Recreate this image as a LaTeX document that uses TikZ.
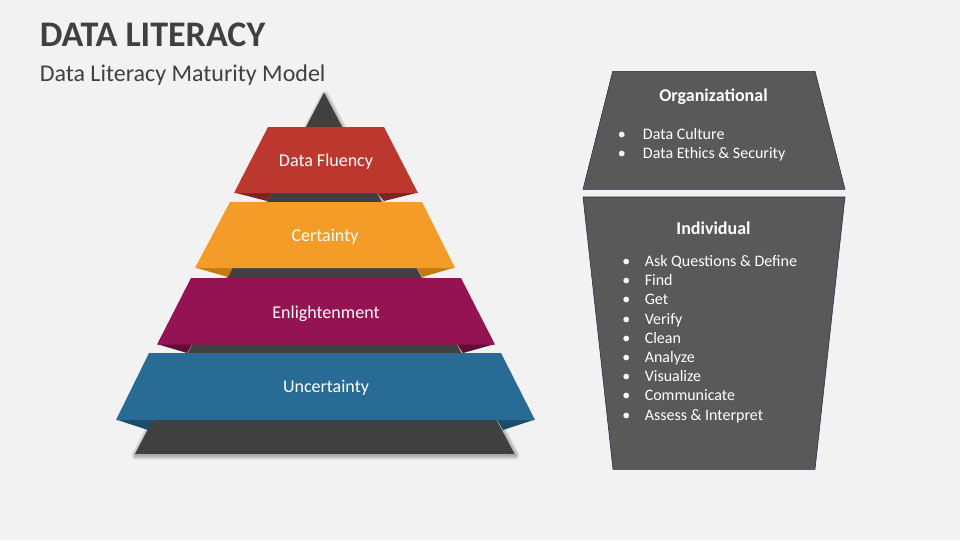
\documentclass[tikz,border=0pt]{standalone}
\usepackage{fontspec}
\setmainfont{Carlito}
\definecolor{slidebg}{HTML}{F2F2F2}
\definecolor{darkgrey}{HTML}{404040}
\definecolor{panelgrey}{HTML}{595959}
\definecolor{panelline}{HTML}{3B1A4A}
\definecolor{fluency}{HTML}{BC382F}
\definecolor{fluencyfold}{HTML}{7E2420}
\definecolor{certainty}{HTML}{F39C27}
\definecolor{certaintyfold}{HTML}{C27A12}
\definecolor{enlight}{HTML}{941352}
\definecolor{enlightfold}{HTML}{610C38}
\definecolor{uncertain}{HTML}{286C96}
\definecolor{uncertainfold}{HTML}{1A4C6C}
\tikzset{
    bandtext/.style={text=white,font=\fontsize{13.5}{16}\selectfont},
    paneltext/.style={text=white,font=\fontsize{12}{14}\selectfont,anchor=base west,inner sep=0},
    panelhead/.style={text=white,font=\fontsize{13.5}{16}\selectfont\bfseries},
    panelshape/.style={fill=panelgrey,draw=panelline,line width=0.4pt}
}
\begin{document}
\begin{tikzpicture}[x=0.75pt,y=-0.75pt]
    \fill [slidebg] (0,0) rectangle (960,540);
    \foreach \w in {1,2,...,7} {
        \draw [black,opacity=0.045,line width=\w*0.9pt,line join=round]
            (325,95) -- (515.5,455.5) -- (135.5,455.5) -- cycle;
    }
    \fill [darkgrey] (324,92.5) -- (514.5,454) -- (135,454) -- cycle;

    \fill [fluencyfold] (234,192.5) -- (267,201) -- (272,192.5) -- cycle;
    \fill [fluencyfold] (418,192.5) -- (384,201) -- (377,192.5) -- cycle;
    \fill [fluency] (268,127) -- (384,127) -- (418,193) -- (234,193) -- cycle;
    \fill [certaintyfold] (195,267.5) -- (228,277) -- (233,267.5) -- cycle;
    \fill [certaintyfold] (455,267.5) -- (422,277) -- (417,267.5) -- cycle;
    \fill [certainty] (230,202) -- (422,202) -- (455,268) -- (195,268) -- cycle;
    \fill [enlightfold] (157,344) -- (187,353) -- (192,344) -- cycle;
    \fill [enlightfold] (495,344) -- (463,353) -- (457,344) -- cycle;
    \fill [enlight] (191,278) -- (461,278) -- (495,344.5) -- (157,344.5) -- cycle;
    \fill [uncertainfold] (116,419.5) -- (148,430) -- (153,419.5) -- cycle;
    \fill [uncertainfold] (535,419.5) -- (503,430) -- (497,419.5) -- cycle;
    \fill [uncertain] (149,353) -- (501,353) -- (535,420) -- (116,420) -- cycle;

    \node [bandtext] (fluencylabel) at (326,161.5) {Data Fluency};
    \node [bandtext] (certaintylabel) at (325,236.5) {Certainty};
    \node [bandtext] (enlightlabel) at (326,313.5) {Enlightenment};
    \node [bandtext] (uncertainlabel) at (326,387.5) {Uncertainty};

    \draw [panelshape] (612.7,71.3) -- (815,71.3) -- (845,189.3) -- (583,189.3) -- cycle;
    \draw [panelshape] (583,197) -- (845,197) -- (815,469.3) -- (613,469.3) -- cycle;

    \node [panelhead] (orghead) at (713.5,96.5) {Organizational};
    \node [panelhead] (indhead) at (713.5,228.5) {Individual};

    \foreach \y/\name/\txt in {139/culture/Data Culture,158/ethics/Data Ethics \& Security} {
        \node [paneltext] (dot\name) at (617.5,\y) {\textbullet};
        \node [paneltext] (\name) at (642.7,\y) {\txt};
    }
    \foreach \y/\name/\txt in {266/ask/Ask Questions \& Define,285/find/Find,304/get/Get,
        324/verify/Verify,343/clean/Clean,362/analyze/Analyze,381/visualize/Visualize,
        400/communicate/Communicate,420/assess/Assess \& Interpret} {
        \node [paneltext] (dot\name) at (622,\y) {\textbullet};
        \node [paneltext] (\name) at (644.5,\y) {\txt};
    }

    \node [anchor=base west,inner sep=0,text=darkgrey,font=\fontsize{27}{32}\selectfont\bfseries] (title) at (39.5,46) {DATA LITERACY};
    \node [anchor=base west,inner sep=0,text=darkgrey,font=\fontsize{18}{22}\selectfont] (subtitle) at (39.5,81) {Data Literacy Maturity Model};
\end{tikzpicture}
\end{document}
